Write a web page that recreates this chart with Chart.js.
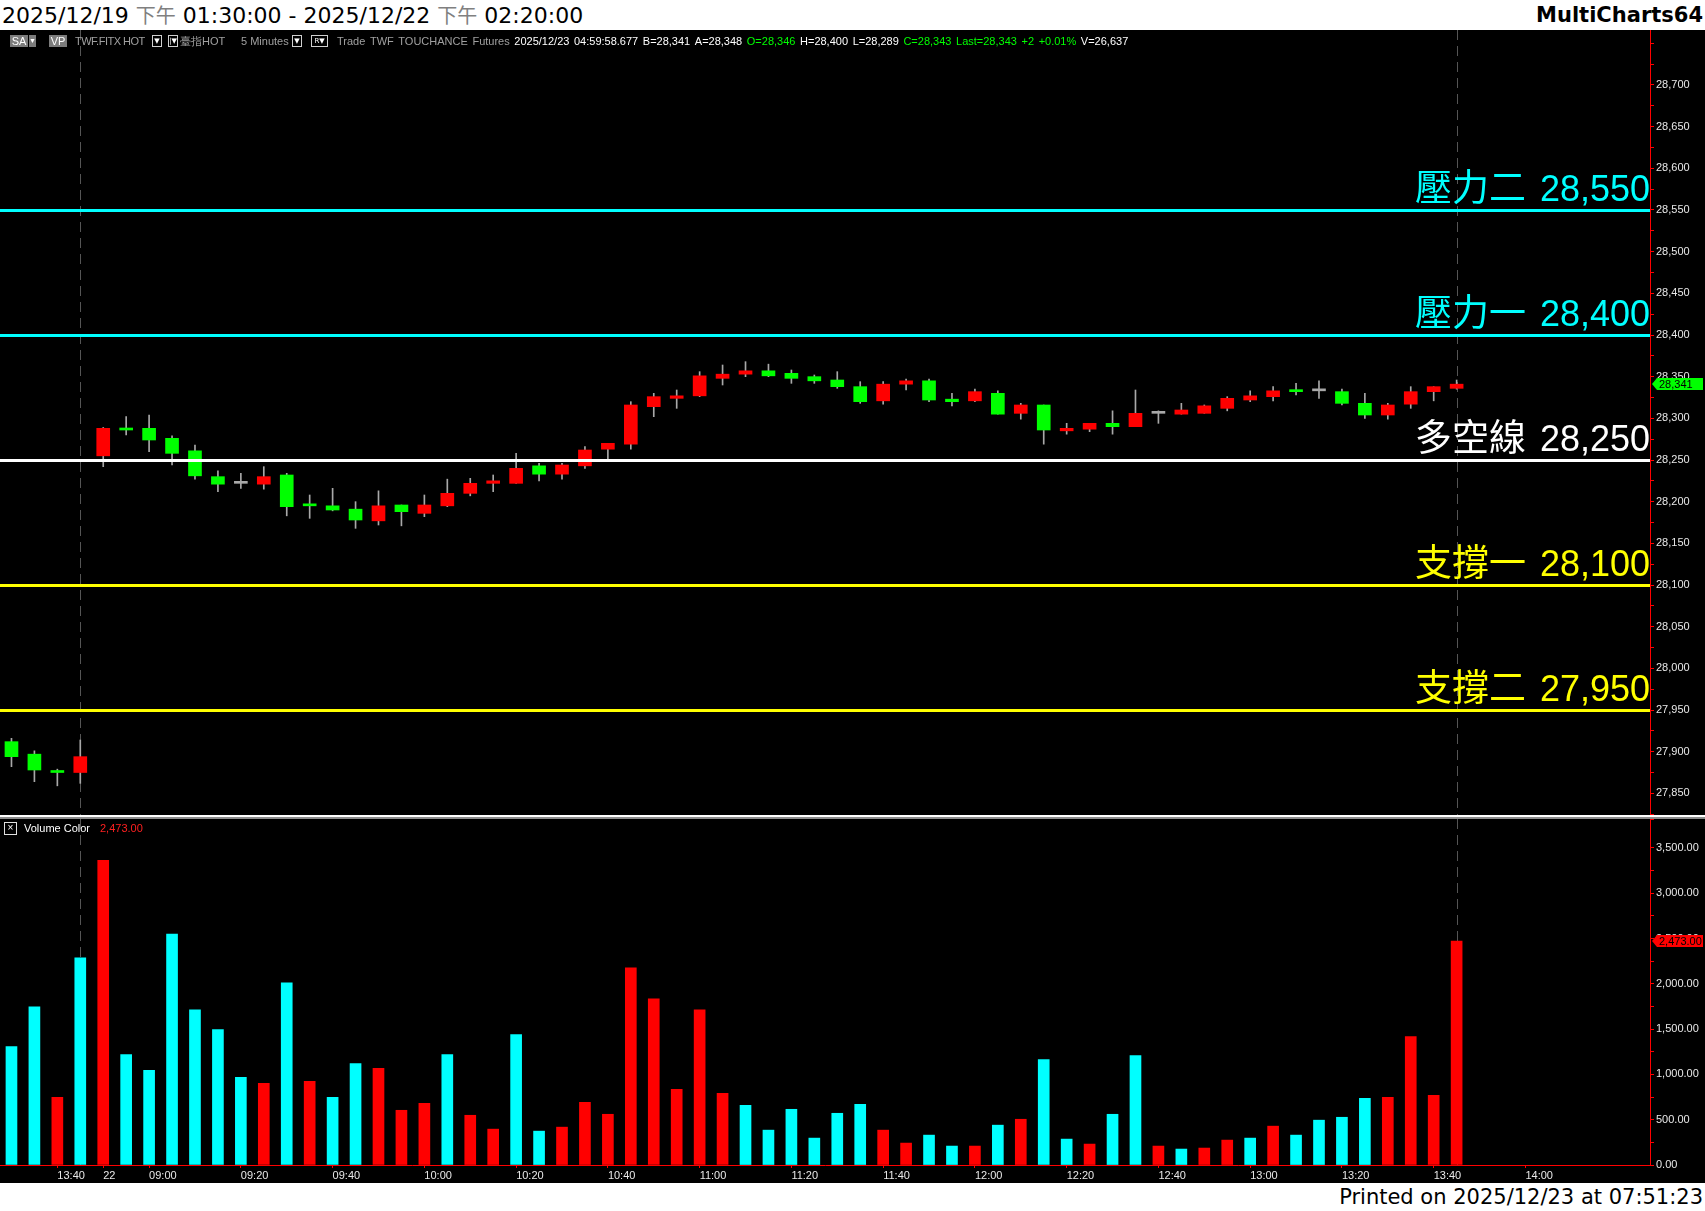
<!DOCTYPE html>
<html lang="zh-Hant">
<head>
<meta charset="utf-8">
<title>TWF.FITX HOT 5 Minutes</title>
<script src="https://cdn.jsdelivr.net/npm/chart.js@4.4.1/dist/chart.umd.min.js"></script>
<style>
  html, body { margin: 0; padding: 0; background: #000; }
  body { position: relative; width: 1705px; height: 1211px; overflow: hidden; font-family: "Liberation Sans", Arial, sans-serif; }
  .paper { position: absolute; left: 0; width: 1705px; background: #fff; color: #000; font-family: "DejaVu Sans", "Noto Sans CJK TC", sans-serif; white-space: nowrap; }
  #header { top: 0; height: 30px; line-height: 30px; font-size: 22px; }
  #footer { top: 1183px; height: 28px; line-height: 28px; font-size: 21px; }
  #title { position: absolute; left: 2px; top: 0; }
  #title .pm { color: #808080; font-size: 20px; font-family: "Noto Sans CJK TC", sans-serif; }
  #brand { position: absolute; right: 2px; top: 0; font-weight: bold; font-size: 21px; }
  #printed { position: absolute; right: 2px; top: 0; }
  canvas { position: absolute; left: 0; }
  #price-chart { top: 30px; }
  #volume-chart { top: 819px; }
  #pane-sep { position: absolute; left: 0; top: 815px; width: 1705px; height: 2px; background: #fff; border-bottom: 2px solid #8c8c8c; }
  #toolbar { position: absolute; left: 0; top: 30px; width: 1640px; height: 22px; line-height: 22px; font-size: 11px; color: #fff; white-space: nowrap; }
  #toolbar > span { position: absolute; top: 0; }
  .gray { color: #a0a0a0; }
  .up { color: #00ff00; }
  .chip { top: 5px !important; height: 12px; line-height: 12px; background: #7c7c7c; color: #fff; font-size: 11px; text-align: center; }
  .drop { top: 5px !important; width: 8px; height: 10px; line-height: 10px; border: 1px solid #d0d0d0; color: #fff; font-size: 7px; text-align: center; font-family: "DejaVu Sans", sans-serif; }
  #words span { margin-right: 4.6px; }
  #vol-legend { position: absolute; left: 0; top: 821px; height: 14px; line-height: 14px; font-size: 11px; color: #fff; white-space: nowrap; }
  #vol-legend span { position: absolute; top: 0; }
  #vol-check { left: 4px; top: 1px !important; width: 11px; height: 11px; line-height: 10px; border: 1px solid #e0e0e0; text-align: center; font-size: 10px; }
</style>
</head>
<body>
<div id="header" class="paper">
  <span id="title">2025/12/19 <span class="pm">下午</span> 01:30:00 - 2025/12/22 <span class="pm">下午</span> 02:20:00</span>
  <span id="brand">MultiCharts64</span>
</div>

<canvas id="price-chart" width="1705" height="785"></canvas>
<div id="pane-sep"></div>
<canvas id="volume-chart" width="1705" height="364"></canvas>

<div id="toolbar">
  <span class="chip" style="left:10px;width:18px;">SA</span>
  <span class="chip" style="left:29px;width:7px;font-size:7px;">▼</span>
  <span class="chip" style="left:49px;width:18px;">VP</span>
  <span class="gray" style="left:75px;letter-spacing:-0.5px;">TWF.FITX HOT</span>
  <span class="drop" style="left:152px;">▼</span>
  <span class="drop" style="left:168px;">|▼</span>
  <span class="gray" style="left:180px;">臺指HOT</span>
  <span class="gray" style="left:241px;">5 Minutes</span>
  <span class="drop" style="left:292px;">▼</span>
  <span class="drop" style="left:311px;width:15px;">R▼</span>
  <span id="words" style="left:337px;">
    <span class="gray">Trade</span><span class="gray">TWF</span><span class="gray">TOUCHANCE</span><span class="gray">Futures</span><span>2025/12/23</span><span>04:59:58.677</span><span>B=28,341</span><span>A=28,348</span><span class="up">O=28,346</span><span>H=28,400</span><span>L=28,289</span><span class="up">C=28,343</span><span class="up">Last=28,343</span><span class="up">+2</span><span class="up">+0.01%</span><span>V=26,637</span>
  </span>
</div>

<div id="vol-legend">
  <span id="vol-check">×</span>
  <span style="left:24px;">Volume Color</span>
  <span id="vol-last" style="left:100px;color:#ff2020;"></span>
</div>

<div id="footer" class="paper"><span id="printed">Printed on 2025/12/23 at 07:51:23</span></div>

<script>
// --- 5 minute bars: 2025/12/19 13:30-13:45, then 2025/12/22 08:50-13:45 ---
const opens = [
  27912, 27897, 27877, 27875,
  28255, 28288, 28288, 28276, 28261, 28230, 28222, 28221, 28232, 28197, 28195, 28191,
  28177, 28196, 28186, 28195, 28210, 28222, 28222, 28243, 28233, 28243, 28263, 28269,
  28314, 28324, 28327, 28348, 28353, 28357, 28354, 28350, 28346, 28338, 28321, 28341,
  28345, 28323, 28321, 28330, 28306, 28316, 28285, 28287, 28294, 28290, 28306, 28305,
  28306, 28312, 28322, 28326, 28334, 28333, 28332, 28318, 28304, 28317, 28332, 28336
];
const highs = [
  27916, 27901, 27879, 27914,
  28289, 28302, 28304, 28279, 28268, 28237, 28234, 28242, 28234, 28208, 28216, 28200,
  28213, 28196, 28208, 28227, 28228, 28232, 28258, 28246, 28246, 28266, 28270, 28320,
  28330, 28334, 28356, 28364, 28368, 28365, 28358, 28352, 28356, 28344, 28344, 28347,
  28347, 28330, 28335, 28333, 28318, 28316, 28294, 28294, 28309, 28334, 28309, 28318,
  28316, 28326, 28333, 28338, 28342, 28345, 28335, 28330, 28318, 28338, 28338, 28346
];
const lows = [
  27882, 27864, 27859, 27862,
  28242, 28280, 28260, 28244, 28227, 28212, 28216, 28215, 28183, 28180, 28189, 28168,
  28172, 28171, 28182, 28194, 28207, 28212, 28222, 28225, 28227, 28240, 28251, 28263,
  28302, 28312, 28326, 28340, 28350, 28350, 28342, 28342, 28336, 28318, 28317, 28334,
  28320, 28315, 28320, 28305, 28299, 28269, 28281, 28284, 28281, 28290, 28294, 28305,
  28306, 28309, 28320, 28321, 28328, 28324, 28316, 28300, 28299, 28312, 28321, 28335
];
const closes = [
  27894, 27878, 27875, 27894,
  28288, 28286, 28274, 28258, 28231, 28221, 28222, 28230, 28194, 28195, 28190, 28178,
  28195, 28188, 28196, 28210, 28222, 28225, 28240, 28233, 28244, 28262, 28270, 28316,
  28326, 28327, 28351, 28353, 28357, 28351, 28348, 28345, 28338, 28320, 28341, 28345,
  28322, 28320, 28332, 28305, 28316, 28286, 28288, 28294, 28290, 28306, 28306, 28310,
  28315, 28324, 28327, 28333, 28332, 28333, 28318, 28304, 28316, 28332, 28338, 28341
];
const volumes = [
  1308, 1747, 747, 2286,
  3363, 1220, 1044, 2549, 1714, 1494, 967, 901, 2011, 923, 747, 1121,
  1066, 604, 681, 1220, 549, 396, 1440, 374, 418, 692, 560, 2176,
  1835, 835, 1714, 791, 659, 385, 615, 297, 571, 670, 385, 242,
  330, 209, 209, 440, 505, 1165, 286, 231, 560, 1209, 209, 176,
  187, 275, 297, 429, 330, 495, 527, 736, 747, 1418, 769, 2473
];
// 1 = red volume bar, 0 = cyan ("Volume Color" study)
const volumeRed = [
  0, 0, 1, 0,
  1, 0, 0, 0, 0, 0, 0, 1, 0, 1, 0, 0,
  1, 1, 1, 0, 1, 1, 0, 0, 1, 1, 1, 1,
  1, 1, 1, 1, 0, 0, 0, 0, 0, 0, 1, 1,
  0, 0, 1, 0, 1, 0, 0, 1, 0, 0, 1, 0,
  1, 1, 0, 1, 0, 0, 0, 0, 1, 1, 1, 1
];

// time axis labels sit on bar slots
const xTickSlots = [2, 4, 6, 10, 14, 18, 22, 26, 30, 34, 38, 42, 46, 50, 54, 58, 62, 66];
const xTickLabels = ['13:40', '22', '09:00', '09:20', '09:40', '10:00', '10:20', '10:40', '11:00',
                     '11:20', '11:40', '12:00', '12:20', '12:40', '13:00', '13:20', '13:40', '14:00'];
const sessionMarks = [3, 63];

// support / resistance lines
const levelNames = ['壓力二', '壓力一', '多空線', '支撐一', '支撐二'];
const levelValues = [28550, 28400, 28250, 28100, 27950];

document.addEventListener("DOMContentLoaded", () => {
    const LEVEL_COLORS = ['#00ffff', '#00ffff', '#ffffff', '#ffff00', '#ffff00'];
    const AXIS_RED = '#ff0000';
    const AXIS_FONT = { family: '"Liberation Sans", Arial, sans-serif', size: 11 };
    const X_MIN = -0.5, X_MAX = 71.43;

    const fmtPrice = v => v.toLocaleString('en-US');
    const fmtVol = v => v.toLocaleString('en-US', { minimumFractionDigits: 2, maximumFractionDigits: 2 });
    const last = closes.length - 1;

    document.getElementById('vol-last').textContent = fmtVol(volumes[last]);

    // keep the plot area exactly where the axis says, no label padding
    const fixWidth = w => scale => { scale.width = w; scale.paddingTop = 0; scale.paddingBottom = 0; };
    const fixHeight = h => scale => { scale.height = h; scale.paddingLeft = 0; scale.paddingRight = 0; };

    function drawTag(ctx, x, y, text, color) {
        ctx.fillStyle = color;
        ctx.beginPath();
        ctx.moveTo(x, y);
        ctx.lineTo(x + 5, y - 6);
        ctx.lineTo(x + 51, y - 6);
        ctx.lineTo(x + 51, y + 6);
        ctx.lineTo(x + 5, y + 6);
        ctx.closePath();
        ctx.fill();
        ctx.fillStyle = '#000';
        ctx.font = '11px "Liberation Sans", Arial, sans-serif';
        ctx.textAlign = 'left';
        ctx.textBaseline = 'middle';
        ctx.fillText(text, x + 7, y + 0.5);
    }

    // dashed session / current bar markers
    const sessionPlugin = {
        id: 'sessionMarks',
        beforeDatasetsDraw(chart) {
            const { ctx, chartArea, scales: { x } } = chart;
            ctx.save();
            ctx.strokeStyle = '#555';
            ctx.lineWidth = 1;
            ctx.setLineDash([10, 6]);
            sessionMarks.forEach(slot => {
                const px = Math.round(x.getPixelForValue(slot)) + 0.5;
                ctx.beginPath();
                ctx.moveTo(px, chartArea.top);
                ctx.lineTo(px, chartArea.bottom);
                ctx.stroke();
            });
            ctx.restore();
        }
    };

    const levelPlugin = {
        id: 'levels',
        afterDatasetsDraw(chart) {
            const { ctx, chartArea, scales: { y } } = chart;
            ctx.save();
            levelValues.forEach((val, i) => {
                const py = Math.round(y.getPixelForValue(val));
                ctx.fillStyle = LEVEL_COLORS[i];
                ctx.fillRect(chartArea.left, py - 1, chartArea.width, 3);

                const num = fmtPrice(val);
                const right = chartArea.right;
                ctx.textAlign = 'right';
                ctx.textBaseline = 'alphabetic';
                ctx.font = '36px "Liberation Sans", Arial, sans-serif';
                ctx.fillText(num, right, py - 9);
                const numW = ctx.measureText(num).width;
                ctx.font = '37px "Noto Sans CJK TC", sans-serif';
                ctx.fillText(levelNames[i], right - numW - 14, py - 9);
            });
            ctx.restore();
        },
        afterDraw(chart) {
            const { ctx, chartArea, scales: { y } } = chart;
            ctx.save();
            drawTag(ctx, chartArea.right + 2, Math.round(y.getPixelForValue(closes[last])), fmtPrice(closes[last]), '#00ff00');
            ctx.restore();
        }
    };

    const volumeTagPlugin = {
        id: 'volumeTag',
        afterDraw(chart) {
            const { ctx, chartArea, scales: { y } } = chart;
            ctx.save();
            drawTag(ctx, chartArea.right + 2, Math.round(y.getPixelForValue(volumes[last])), fmtVol(volumes[last]), '#ff0000');
            ctx.restore();
        }
    };

    const candleColor = i => closes[i] > opens[i] ? '#ff0000' : (closes[i] < opens[i] ? '#00ff00' : '#a8a8a8');

    // --- price pane ---
    new Chart(document.getElementById('price-chart'), {
        type: 'bar',
        data: {
            datasets: [
                {
                    label: 'body',
                    data: opens.map((o, i) => ({ x: i, y: [o, closes[i]] })),
                    backgroundColor: c => candleColor(c.dataIndex),
                    barThickness: 13,
                    minBarLength: 2,
                    grouped: false,
                    order: 0
                },
                {
                    label: 'wick',
                    data: lows.map((l, i) => ({ x: i, y: [l, highs[i]] })),
                    backgroundColor: '#a8a8a8',
                    barThickness: 1,
                    grouped: false,
                    order: 1
                }
            ]
        },
        options: {
            responsive: false,
            animation: false,
            devicePixelRatio: 1,
            layout: { padding: 0 },
            plugins: { legend: { display: false }, tooltip: { enabled: false } },
            scales: {
                x: { type: 'linear', min: X_MIN, max: X_MAX, offset: false, display: false },
                y: {
                    position: 'right',
                    min: 27824,
                    max: 28766,
                    afterFit: fixWidth(55),
                    ticks: {
                        stepSize: 25,
                        includeBounds: false,
                        autoSkip: false,
                        padding: 2,
                        color: '#e8e8e8',
                        font: AXIS_FONT,
                        callback: v => (v % 50 === 0 && v <= 28700) ? fmtPrice(v) : ''
                    },
                    grid: { drawOnChartArea: false, tickLength: 4, color: AXIS_RED },
                    border: { color: AXIS_RED, width: 1 }
                }
            }
        },
        plugins: [sessionPlugin, levelPlugin]
    });

    // --- volume pane ---
    new Chart(document.getElementById('volume-chart'), {
        type: 'bar',
        data: {
            datasets: [{
                label: 'Volume Color',
                data: volumes.map((v, i) => ({ x: i, y: v })),
                backgroundColor: c => volumeRed[c.dataIndex] ? '#ff0000' : '#00ffff',
                barThickness: 11
            }]
        },
        options: {
            responsive: false,
            animation: false,
            devicePixelRatio: 1,
            layout: { padding: 0 },
            plugins: { legend: { display: false }, tooltip: { enabled: false } },
            scales: {
                x: {
                    type: 'linear',
                    min: X_MIN,
                    max: X_MAX,
                    offset: false,
                    afterFit: fixHeight(18),
                    afterBuildTicks: scale => { scale.ticks = xTickSlots.map(v => ({ value: v })); },
                    ticks: {
                        autoSkip: false,
                        maxRotation: 0,
                        minRotation: 0,
                        align: 'start',
                        padding: 1,
                        color: '#e8e8e8',
                        font: AXIS_FONT,
                        callback: v => xTickLabels[xTickSlots.indexOf(v)] || ''
                    },
                    grid: { drawOnChartArea: false, offset: false, tickLength: 3, color: AXIS_RED },
                    border: { color: AXIS_RED, width: 1 }
                },
                y: {
                    position: 'right',
                    min: 0,
                    max: 3820,
                    afterFit: fixWidth(55),
                    ticks: {
                        stepSize: 250,
                        autoSkip: false,
                        padding: 2,
                        color: '#e8e8e8',
                        font: AXIS_FONT,
                        callback: v => v % 500 === 0 ? fmtVol(v) : ''
                    },
                    grid: { drawOnChartArea: false, tickLength: 4, color: AXIS_RED },
                    border: { color: AXIS_RED, width: 1 }
                }
            }
        },
        plugins: [sessionPlugin, volumeTagPlugin]
    });
});
</script>
</body>
</html>
